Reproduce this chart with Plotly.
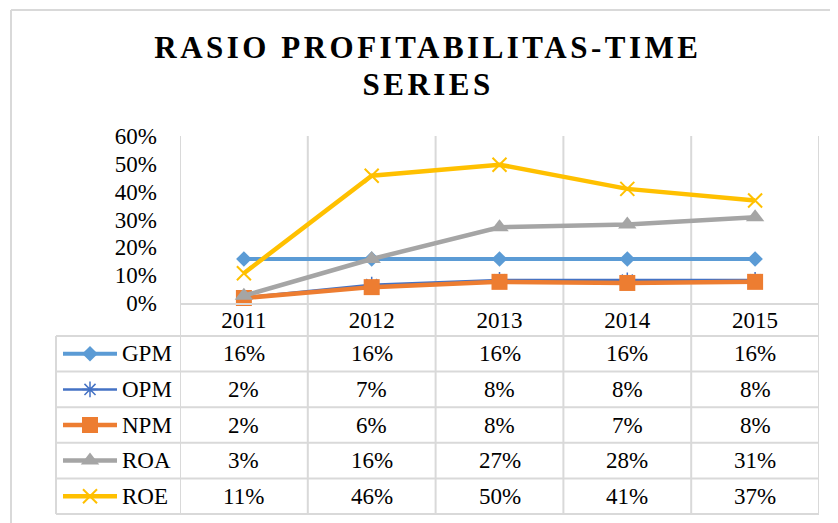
import plotly.graph_objects as go

W, H = 838, 523

# ---------------- data ----------------
years = ["2011", "2012", "2013", "2014", "2015"]
series_names = ["GPM", "OPM", "NPM", "ROA", "ROE"]
gpm = [0.158, 0.158, 0.158, 0.158, 0.158]
opm = [0.020, 0.066, 0.083, 0.082, 0.083]
npm = [0.018, 0.057, 0.076, 0.072, 0.076]
roa = [0.026, 0.158, 0.272, 0.282, 0.308]
roe = [0.107, 0.457, 0.497, 0.410, 0.368]
y_tick_vals = [0.0, 0.1, 0.2, 0.3, 0.4, 0.5, 0.6]
title_lines = ["RASIO PROFITABILITAS-TIME", "SERIES"]

values = [gpm, opm, npm, roa, roe]

# ---------------- styles ----------------
FONT = "Liberation Serif, Times New Roman, serif"
GRID = "#d9d9d9"
FS = 23
styles = {
    "GPM": dict(color="#5B9BD5", symbol="diamond", size=12, width=4, mline=0),
    "OPM": dict(color="#4472C4", symbol="asterisk-open", size=13, width=2.5, mline=1.5),
    "NPM": dict(color="#ED7D31", symbol="square", size=16, width=4.5, mline=0),
    "ROA": dict(color="#A5A5A5", symbol="triangle-up", size=16, width=4.5, mline=0),
    "ROE": dict(color="#FFC000", symbol="x-thin-open", size=14, width=4.5, mline=2),
}

OFF = 8  # page body margin offset


def px(x):
    return (x - OFF) / W


def py(y):
    return (H - (y - OFF)) / H


X_LEFT, X_RIGHT = 180, 819
Y_TOP, Y_ZERO = 136, 303
TABLE_LEFT = 56
ROW_TOP = 336
ROW_H = 35.6
TABLE_BOTTOM = ROW_TOP + ROW_H * len(series_names)

fig = go.Figure()

for name, vals in zip(series_names, values):
    s = styles[name]
    fig.add_trace(go.Scatter(
        x=years, y=vals, mode="lines+markers", name=name,
        line=dict(color=s["color"], width=s["width"]),
        marker=dict(symbol=s["symbol"], size=s["size"], color=s["color"],
                    line=dict(color=s["color"], width=s["mline"])),
        xaxis="x", yaxis="y", showlegend=False, hoverinfo="skip",
        cliponaxis=False,
    ))

# legend keys in the data table (pixel-space overlay axes)
for i, name in enumerate(series_names):
    s = styles[name]
    yc = ROW_TOP + ROW_H * (i + 0.5) - OFF
    fig.add_trace(go.Scatter(
        x=[63 - OFF, 117 - OFF], y=[yc, yc], mode="lines",
        line=dict(color=s["color"], width=s["width"]),
        xaxis="x2", yaxis="y2", showlegend=False, hoverinfo="skip",
    ))
    fig.add_trace(go.Scatter(
        x=[90 - OFF], y=[yc], mode="markers",
        marker=dict(symbol=s["symbol"], size=s["size"], color=s["color"],
                    line=dict(color=s["color"], width=s["mline"])),
        xaxis="x2", yaxis="y2", showlegend=False, hoverinfo="skip",
    ))

shapes = []
# chart border (left and top edges visible)
shapes.append(dict(type="line", xref="paper", yref="paper",
                   x0=px(11), x1=px(11), y0=0, y1=py(10),
                   line=dict(color=GRID, width=2), layer="below"))
shapes.append(dict(type="line", xref="paper", yref="paper",
                   x0=px(11), x1=1, y0=py(10), y1=py(10),
                   line=dict(color=GRID, width=2), layer="below"))
# vertical gridlines / table column lines
for k in range(len(years) + 1):
    shapes.append(dict(type="line", xref="x", yref="paper",
                       x0=k - 0.5, x1=k - 0.5, y0=py(TABLE_BOTTOM), y1=py(Y_TOP),
                       line=dict(color=GRID, width=2), layer="below"))
# table row lines
for r in range(len(series_names) + 1):
    yy = ROW_TOP + ROW_H * r
    shapes.append(dict(type="line", xref="paper", yref="paper",
                       x0=px(TABLE_LEFT), x1=px(X_RIGHT), y0=py(yy), y1=py(yy),
                       line=dict(color=GRID, width=2), layer="below"))
shapes.append(dict(type="line", xref="paper", yref="paper",
                   x0=px(TABLE_LEFT), x1=px(TABLE_LEFT), y0=py(TABLE_BOTTOM), y1=py(ROW_TOP),
                   line=dict(color=GRID, width=2), layer="below"))

annotations = []
# title (two lines)
for txt, yc in zip(title_lines, [48, 84]):
    annotations.append(dict(text=f"<b>{txt}</b>", xref="paper", yref="paper",
                            x=px(428), y=py(yc), xanchor="center", yanchor="middle",
                            showarrow=False,
                            font=dict(family=FONT, size=31, color="black")))
# table cells
for i, (name, vals) in enumerate(zip(series_names, values)):
    yc = ROW_TOP + ROW_H * (i + 0.5)
    annotations.append(dict(text=name, xref="paper", yref="paper",
                            x=px(120), y=py(yc), xanchor="left", yanchor="middle",
                            showarrow=False, font=dict(family=FONT, size=FS, color="black")))
    for j, v in enumerate(vals):
        annotations.append(dict(text=f"{v * 100:.0f}%", xref="x", yref="paper",
                                x=j, y=py(yc), xanchor="center", yanchor="middle",
                                showarrow=False, font=dict(family=FONT, size=FS, color="black")))

fig.update_layout(
    width=W, height=H, autosize=False,
    margin=dict(l=0, r=0, t=0, b=0, pad=0),
    paper_bgcolor="white", plot_bgcolor="rgba(0,0,0,0)",
    xaxis=dict(type="category", domain=[px(X_LEFT), px(X_RIGHT)],
               range=[-0.5, len(years) - 0.5], anchor="y",
               showgrid=False, zeroline=False, showline=True,
               linecolor=GRID, linewidth=2, ticks="",
               tickfont=dict(family=FONT, size=FS, color="black"),
               ticklabelstandoff=-5, automargin=False),
    yaxis=dict(domain=[py(Y_ZERO), py(Y_TOP)], range=[0, 0.6], anchor="x",
               tickvals=y_tick_vals, tickformat=".0%",
               showgrid=False, zeroline=False, showline=False, ticks="",
               tickfont=dict(family=FONT, size=FS, color="black"),
               ticklabelstandoff=22, automargin=False),
    xaxis2=dict(domain=[0, 1], range=[0, W], visible=False, anchor="y2",
                fixedrange=True, automargin=False),
    yaxis2=dict(domain=[0, 1], range=[H, 0], visible=False, anchor="x2",
                fixedrange=True, automargin=False),
    shapes=shapes,
    annotations=annotations,
)

post = """
document.querySelectorAll('.annotation-text').forEach(function(e){
  var t = e.textContent;
  if (t.indexOf('RASIO') === 0 || t === 'SERIES') { e.style.letterSpacing = '3.5px'; }
});
"""
fig.write_html("out.html", post_script=post)
